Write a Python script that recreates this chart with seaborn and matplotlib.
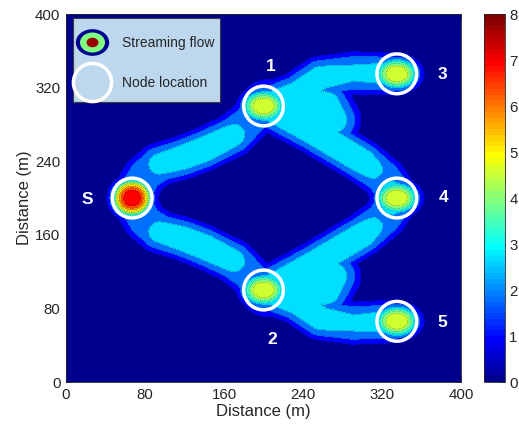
import numpy as np
import matplotlib
matplotlib.use("Agg")
import matplotlib.pyplot as plt
import seaborn as sns
from matplotlib.path import Path
from matplotlib.lines import Line2D
from matplotlib.patches import Rectangle
from matplotlib.legend_handler import HandlerTuple
from matplotlib.colors import Normalize, ListedColormap
from matplotlib.cm import ScalarMappable

# ---- network nodes -------------------------------------------------------
node_names = ["S", "1", "2", "3", "4", "5"]
node_x = [67, 200, 200, 335, 335, 335]
node_y = [200, 300, 100, 335, 200, 66]
# peak streaming intensity at each node and its half-extent (x, y) in metres
node_peak = [7.45, 5.0, 5.0, 5.0, 5.0, 5.0]
node_wx = [20, 23, 23, 23, 23, 23]
node_wy = [20, 18, 18, 18, 18, 18]

# label anchor for each node
label_x = [22, 207, 209, 381, 382, 381]
label_y = [198, 343, 46, 334, 201, 65]

# ---- streaming paths (centre line, intensity along it, half-width) -------
s1_x = [67, 80, 95, 118, 140, 169, 185, 200]
s1_y = [200, 225, 237, 244, 253, 268, 283, 300]
s1_a = [2.6, 2.5, 2.95, 3.15, 3.2, 3.0, 2.45, 2.7]

s2_x = [67, 80, 95, 118, 140, 169, 185, 200]
s2_y = [200, 175, 163, 156, 147, 132, 117, 100]
s2_a = [2.6, 2.5, 2.95, 3.15, 3.2, 3.0, 2.45, 2.7]

n13_x = [200, 235, 258, 290, 335]
n13_y = [300, 314, 331, 336, 335]
n13_a = [3.0, 3.1, 3.05, 2.8, 3.0]

n14_x = [200, 250, 300, 322, 335]
n14_y = [300, 272, 240, 222, 200]
n14_a = [3.0, 3.2, 3.15, 2.6, 3.0]

hub1_x = [205, 262, 270]
hub1_y = [300, 300, 285]
hub1_a = [3.1, 3.1, 3.0]

n25_x = [200, 235, 258, 290, 335]
n25_y = [100, 86, 69, 64, 66]
n25_a = [3.0, 3.1, 3.05, 2.8, 3.0]

n24_x = [200, 250, 300, 322, 335]
n24_y = [100, 128, 160, 178, 200]
n24_a = [3.0, 3.2, 3.15, 2.6, 3.0]

hub2_x = [205, 262, 270]
hub2_y = [100, 100, 115]
hub2_a = [3.1, 3.1, 3.0]

streams = [(s1_x, s1_y, s1_a), (s2_x, s2_y, s2_a),
           (n13_x, n13_y, n13_a), (n14_x, n14_y, n14_a),
           (hub1_x, hub1_y, hub1_a),
           (n25_x, n25_y, n25_a), (n24_x, n24_y, n24_a),
           (hub2_x, hub2_y, hub2_a)]
stream_w = [22, 22, 22, 22, 27, 22, 22, 27]

# contour levels of the filled map
levels = [0, 0.9, 1.8, 2.7, 3.3, 3.9, 4.5, 5.1, 5.7, 6.3, 6.9, 7.5, 8]
tick_vals = [0, 80, 160, 240, 320, 400]

# ---- build the intensity grid ---------------------------------------------
gx = np.linspace(0, 400, 401)
gy = np.linspace(0, 400, 401)
X, Y = np.meshgrid(gx, gy)


def tube(px, py, pa, w):
    out = np.zeros_like(X)
    for i in range(len(px) - 1):
        x0, y0, x1, y1 = px[i], py[i], px[i + 1], py[i + 1]
        dx, dy = x1 - x0, y1 - y0
        t = np.clip(((X - x0) * dx + (Y - y0) * dy) / (dx * dx + dy * dy), 0, 1)
        d = np.hypot(X - x0 - t * dx, Y - y0 - t * dy)
        a = pa[i] + t * (pa[i + 1] - pa[i])
        out = np.maximum(out, a * np.exp(-(d / w) ** 3.5))
    return out


stream = np.zeros_like(X)
for (sx_, sy_, sa_), w in zip(streams, stream_w):
    stream = np.maximum(stream, tube(sx_, sy_, sa_, w))

nodes = np.zeros_like(X)
for x0, y0, a, wx, wy in zip(node_x, node_y, node_peak, node_wx, node_wy):
    r = np.hypot((X - x0) / wx, (Y - y0) / wy)
    nodes = np.maximum(nodes, a * np.exp(-r ** 3))

Z = np.maximum(stream, nodes)


# ---- 64-step jet colour table -----------------------------------------------
def jet64(m=64):
    n = int(np.ceil(m / 4))
    u = np.concatenate([np.arange(1, n + 1) / n, np.ones(n - 1),
                        np.arange(n, 0, -1) / n])
    g = int(np.ceil(n / 2)) - (1 if m % 4 == 1 else 0) + np.arange(1, len(u) + 1)
    r, b = g + n, g - n
    J = np.zeros((m, 3))
    for ch, idx in ((0, r), (1, g), (2, b)):
        ok = (idx >= 1) & (idx <= m)
        J[idx[ok] - 1, ch] = u[ok]
    return ListedColormap(J, name="jet64")


cmap = jet64()

# ---- styling -------------------------------------------------------------
sns.set_theme(style="ticks")
plt.rcParams["font.family"] = ["Liberation Sans", "DejaVu Sans"]
ink = "#262626"

fig = plt.figure(figsize=(5.19, 4.30), dpi=100)
ax = fig.add_axes([0.1272, 0.1116, 0.7611, 0.8558])
cax = fig.add_axes([0.9326, 0.1116, 0.0405, 0.8558])

fill_colors = [cmap(l / 8.0) for l in levels[:-1]]
ax.contourf(X, Y, Z, levels=levels, colors=fill_colors)
ax.contour(X, Y, Z, levels=levels[1:-1], colors="k", linewidths=0.5,
           linestyles=":", alpha=0.65)

node_df = {"x": node_x, "y": node_y}
sns.scatterplot(x="x", y="y", data=node_df, ax=ax, marker="o", s=820,
                facecolor="none", edgecolor="white", linewidth=2.5,
                legend=False, zorder=5)

for name, lx, ly in zip(node_names, label_x, label_y):
    ax.text(lx, ly, name, color="white", fontsize=12.5, fontweight="bold",
            ha="center", va="center", zorder=6)

ax.set_xlim(0, 400)
ax.set_ylim(0, 400)
ax.set_xticks(tick_vals)
ax.set_yticks(tick_vals)
ax.set_xlabel("Distance (m)", fontsize=12, color=ink, labelpad=2)
ax.set_ylabel("Distance (m)", fontsize=12, color=ink, labelpad=2)
ax.tick_params(direction="in", length=4, width=0.6, colors=ink,
               labelsize=10.8, top=True, right=True, pad=4)
for sp in ax.spines.values():
    sp.set_color(ink)
    sp.set_linewidth(0.6)

# ---- legend (own box behind a frameless legend) -----------------------------
ax.add_patch(Rectangle((0.0177, 0.761), 0.372, 0.228, transform=ax.transAxes,
                       facecolor="#BDD7EE", edgecolor="#3c3c3c",
                       linewidth=0.8, zorder=9))
ell = Path(Path.unit_circle().vertices * np.array([1.25, 1.0]),
           Path.unit_circle().codes)
h_flow = (
    Line2D([], [], ls="none", marker=ell, markersize=24, color="#00008F",
           markeredgewidth=0),
    Line2D([], [], ls="none", marker=ell, markersize=18, color="#80FF80",
           markeredgewidth=0),
    Line2D([], [], ls="none", marker=ell, markersize=8.6, color="#990000",
           markeredgewidth=0),
)
h_node = Line2D([], [], ls="none", marker="o", markersize=27.5,
                markerfacecolor="none", markeredgecolor="white",
                markeredgewidth=2.5)
leg = ax.legend([h_flow, h_node], ["Streaming flow", "Node location"],
                handler_map={tuple: HandlerTuple(ndivide=1, pad=0)},
                loc="upper left", bbox_to_anchor=(0.028, 0.940),
                borderaxespad=0, borderpad=0, frameon=False, fontsize=10,
                handlelength=2.2, handleheight=0.7, labelspacing=1.87,
                handletextpad=1.05, numpoints=1)
leg.set_zorder(10)

# ---- colour bar --------------------------------------------------------
sm = ScalarMappable(norm=Normalize(0, 8), cmap=cmap)
cb = fig.colorbar(sm, cax=cax, ticks=range(0, 9))
cb.outline.set_edgecolor(ink)
cb.outline.set_linewidth(0.6)
cax.tick_params(direction="in", length=4, width=0.6, colors=ink,
                labelsize=10.8, pad=3)

fig.savefig("out.png", dpi=100)
